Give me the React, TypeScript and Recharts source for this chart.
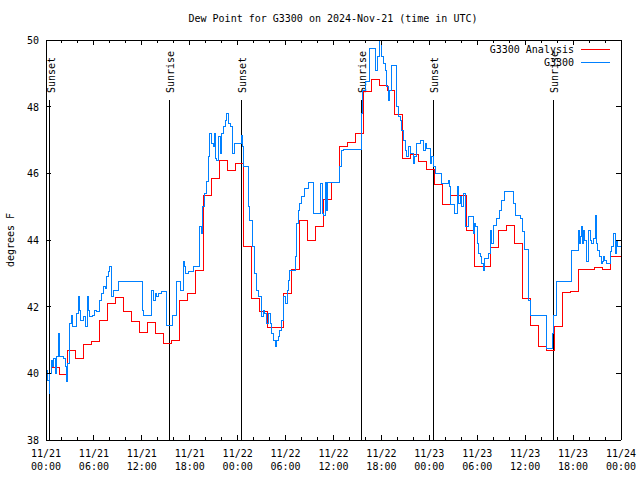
import { LineChart, Line, XAxis, YAxis, ReferenceLine } from 'recharts'

const FONT = '"DejaVu Sans Mono", "Liberation Mono", monospace'
const RED = '#ff0000'
const BLUE = '#0080ff'

// G3300 Analysis: hourly values, each one starts at ~:42 past the hour
const analysisFirst = 40.0
const analysisOffset = 0.7
const analysisHourly = [
  40.18, 39.98, 40.68, 40.46, 40.86, 40.96, 41.6, 42.1, 42.28, 41.86, 41.56, 41.23,
  41.53, 41.2, 40.9, 41.0, 42.2, 42.4, 43.08, 45.35, 45.85, 46.39, 46.09, 46.3,
  43.8, 42.25, 41.85, 41.37, 41.37, 42.4, 43.12, 44.58, 43.98, 44.42, 45.22, 45.72,
  46.8, 46.92, 47.2, 48.45, 48.82, 48.65, 48.5, 47.78, 46.45, 46.58, 46.35, 46.12,
  45.68, 45.08, 45.35, 45.35, 44.28, 43.22, 43.22, 43.78, 44.3, 44.44, 43.9, 42.26,
  41.45, 40.8, 40.68, 41.4, 42.43, 42.45, 43.12, 43.12, 43.17, 43.12, 43.5, 43.5,
]

// G3300 observations (hours since 11/21 00:00 UTC)
const obsHours = [
  0, 0.25, 0.42, 0.5, 0.65, 0.85, 1.0, 1.15, 1.3, 1.54, 1.65, 1.75, 2.17, 2.4, 2.59, 2.7,
  2.88, 3.0, 3.21, 3.35, 3.63, 3.85, 4.05, 4.2, 4.34, 4.7, 5.0, 5.18, 5.3, 5.43, 5.8, 6.1,
  6.34, 6.76, 7.0, 7.18, 7.4, 7.6, 7.8, 8.01, 8.15, 8.22, 8.43, 9.06, 12.1, 12.27, 13.23, 13.44,
  13.65, 13.86, 14.1, 14.48, 15.11, 15.86, 16.36, 16.78, 17.19, 17.35, 17.53, 17.82, 18.45, 19.2,
  19.45, 19.6, 19.83, 20.12, 20.33, 20.53, 20.74, 20.95, 21.1, 21.2, 21.37, 21.58, 21.79, 22.0,
  22.2, 22.45, 22.62, 22.83, 23.04, 23.37, 23.66, 24.3, 24.42, 24.58, 24.79, 25.33, 25.54, 25.84,
  26.17, 26.38, 26.59, 27.0, 27.2, 27.42, 27.6, 27.84, 28.05, 28.26, 28.45, 28.68, 28.9, 29.09,
  29.3, 29.51, 29.8, 30.01, 30.2, 30.35, 30.55, 31.18, 31.39, 31.6, 31.8, 32.01, 32.43, 32.85,
  33.47, 34.43, 34.6, 34.73, 34.94, 35.1, 35.3, 36.81, 37.0, 37.23, 39.52, 39.65, 39.95, 40.57,
  41.2, 41.49, 41.74, 42.03, 42.25, 42.45, 42.66, 42.85, 43.07, 43.28, 43.91, 44.1, 44.33, 44.55,
  44.75, 45.0, 45.16, 45.37, 45.7, 46.0, 46.2, 46.42, 46.84, 47.25, 47.5, 47.67, 48.09, 48.3,
  48.51, 48.71, 49.55, 50.38, 50.51, 50.68, 51.21, 51.51, 51.7, 51.84, 52.0, 52.26, 52.55, 52.88,
  53.51, 53.65, 53.8, 54.01, 54.2, 54.35, 54.55, 54.76, 54.97, 55.39, 55.6, 55.81, 56.02, 56.43,
  56.73, 57.06, 57.35, 58.52, 58.85, 59.44, 59.69, 59.94, 60.41, 60.73, 62.61, 63.4, 63.53, 63.94,
  65.82, 66.66, 66.75, 66.87, 67.0, 67.16, 67.3, 67.49, 67.7, 67.91, 68.12, 68.3, 68.54, 68.75,
  68.9, 69.08, 69.37, 69.5, 69.67, 69.8, 69.92, 70.2, 70.63, 70.83, 71.12, 71.33, 71.45, 71.58, 72,
]
const obsValues = [
  40.1, 39.8, 39.4, 40.0, 40.4, 40.2, 40.45, 40.0, 40.5, 41.2, 41.1, 40.5, 40.45, 40.2, 39.75, 40.3,
  41.1, 41.5, 41.75, 41.4, 41.4, 41.8, 42.3, 41.9, 41.6, 41.7, 41.4, 42.3, 41.9, 41.7, 41.75, 41.9,
  41.85, 42.2, 42.4, 42.6, 42.55, 42.9, 43.05, 43.2, 42.9, 42.3, 42.5, 42.75, 41.9, 41.75, 42.5, 42.2,
  42.4, 42.3, 42.4, 42.47, 41.45, 41.75, 42.75, 42.5, 43.35, 43.2, 43.0, 43.05, 43.2, 44.4,
  44.2, 45.0, 45.4, 45.75, 46.5, 47.2, 46.9, 46.8, 47.2, 46.45, 46.4, 47.1, 46.6, 47.2,
  47.4, 47.6, 47.8, 47.5, 47.4, 46.6, 46.9, 46.9, 47.15, 46.8, 46.2, 45.0, 44.6, 43.8,
  43.0, 42.5, 42.3, 41.7, 41.9, 41.8, 41.5, 41.8, 41.5, 41.2, 41.0, 40.8, 41.0, 41.1,
  41.3, 41.6, 42.3, 42.1, 42.5, 42.8, 43.1, 43.5, 44.5, 44.9, 45.1, 45.3, 45.55, 45.72,
  44.8, 45.7, 44.8, 44.75, 45.72, 44.9, 45.72, 46.2, 46.7, 46.73, 47.8, 48.5, 48.75, 49.75,
  49.1, 49.5, 50.0, 49.5, 49.3, 49.1, 48.6, 48.2, 48.5, 49.25, 48.0, 47.7, 47.6, 47.3,
  47.0, 46.7, 46.5, 46.8, 46.6, 46.3, 46.5, 46.9, 47.0, 46.7, 46.9, 46.75, 46.3, 46.5,
  46.2, 46.0, 45.7, 45.8, 45.6, 45.08, 44.8, 45.6, 45.1, 45.3, 45.0, 45.4, 44.4, 44.7,
  44.2, 44.5, 44.4, 43.9, 43.6, 43.5, 43.3, 43.1, 43.45, 43.6, 44.3, 43.9, 44.45, 44.65,
  44.9, 45.2, 45.45, 45.1, 44.75, 44.65, 44.25, 43.73, 42.2, 41.75, 40.75, 41.2, 41.75, 42.75,
  43.7, 44.3, 43.9, 44.1, 44.4, 43.9, 44.3, 44.0, 43.35, 44.3, 44.0, 43.9, 44.05, 44.75,
  43.9, 43.7, 43.5, 43.3, 43.35, 43.5, 43.4, 43.3, 43.65, 43.8, 44.2, 43.6, 44.0, 43.8, 43.9,
]

const sunHours = [0.5, 15.45, 24.45, 39.5, 48.5, 63.5]
const sunNames = ['Sunset', 'Sunrise', 'Sunset', 'Sunrise', 'Sunset', 'Sunrise']
const sunLineTop = 48.2

const xTickHours = [0, 6, 12, 18, 24, 30, 36, 42, 48, 54, 60, 66, 72]
const xTickDates = ['11/21', '11/21', '11/21', '11/21', '11/22', '11/22', '11/22', '11/22', '11/23', '11/23', '11/23', '11/23', '11/24']
const xTickTimes = ['00:00', '06:00', '12:00', '18:00', '00:00', '06:00', '12:00', '18:00', '00:00', '06:00', '12:00', '18:00', '00:00']
const xMinorTicks = Array.from({ length: 37 }, (_, i) => i * 2)
const yTicks = [38, 40, 42, 44, 46, 48, 50]

const analysisData = [
  { t: 0, v: analysisFirst },
  ...analysisHourly.map((v, k) => ({ t: k + analysisOffset, v })),
  { t: 72, v: analysisHourly[analysisHourly.length - 1] },
]
const obsData = obsHours.map((t, i) => ({ t, v: obsValues[i] }))

const txt = { fontFamily: FONT, fontSize: 10, fill: '#000' }

function BottomTick({ x, y, payload }: any) {
  const i = xTickHours.indexOf(payload.value)
  const len = i >= 0 ? 5 : 3
  return (
    <g>
      <line x1={x} x2={x} y1={y} y2={y - len} stroke="#000" />
      {i >= 0 && <text x={x} y={y + 17} textAnchor="middle" {...txt}>{xTickDates[i]}</text>}
      {i >= 0 && <text x={x} y={y + 30} textAnchor="middle" {...txt}>{xTickTimes[i]}</text>}
    </g>
  )
}

function TopTick({ x, y, payload }: any) {
  const len = xTickHours.includes(payload.value) ? 5 : 3
  return <line x1={x} x2={x} y1={y} y2={y + len} stroke="#000" />
}

function LeftTick({ x, y, payload }: any) {
  return (
    <g>
      <line x1={x} x2={x + 5} y1={y} y2={y} stroke="#000" />
      <text x={x - 7} y={y + 4} textAnchor="end" {...txt}>{payload.value}</text>
    </g>
  )
}

function RightTick({ x, y }: any) {
  return <line x1={x} x2={x - 5} y1={y} y2={y} stroke="#000" />
}

const sunLabel = (name: string) => (props: any) => {
  const vb = props.viewBox || {}
  const x = vb.x + 5
  const y = vb.y - 7
  return (
    <text x={x} y={y} transform={`rotate(-90 ${x} ${y})`} textAnchor="start" {...txt}>{name}</text>
  )
}

export default function App() {
  return (
    <div style={{ position: 'absolute', left: 0, top: 0, width: 640, height: 480, background: '#fff' }}>
      <LineChart width={640} height={480} margin={{ top: 39, right: 18, bottom: 39, left: 45 }}
        style={{ shapeRendering: 'crispEdges' }}>
        <XAxis xAxisId="b" dataKey="t" type="number" domain={[0, 72]} ticks={xMinorTicks} interval={0}
          height={1} tickSize={0} tickMargin={0} tickLine={false} tick={<BottomTick />}
          axisLine={{ stroke: '#000' }} allowDataOverflow />
        <XAxis xAxisId="t" orientation="top" dataKey="t" type="number" domain={[0, 72]} ticks={xMinorTicks} interval={0}
          height={1} tickSize={0} tickMargin={0} tickLine={false} tick={<TopTick />}
          axisLine={{ stroke: '#000' }} allowDataOverflow />
        <YAxis yAxisId="l" type="number" domain={[38, 50]} ticks={yTicks} interval={0}
          width={1} tickSize={0} tickMargin={0} tickLine={false} tick={<LeftTick />}
          axisLine={{ stroke: '#000' }} allowDataOverflow />
        <YAxis yAxisId="r" orientation="right" type="number" domain={[38, 50]} ticks={yTicks} interval={0}
          width={1} tickSize={0} tickMargin={0} tickLine={false} tick={<RightTick />}
          axisLine={{ stroke: '#000' }} allowDataOverflow />
        {sunHours.map((h, i) => (
          <ReferenceLine key={i} xAxisId="b" yAxisId="l" stroke="#000" strokeWidth={1}
            segment={[{ x: h, y: 38 }, { x: h, y: sunLineTop }]}
            label={{ content: sunLabel(sunNames[i]) }} />
        ))}
        <Line xAxisId="b" yAxisId="l" data={analysisData} dataKey="v" type="stepAfter"
          stroke={RED} strokeWidth={1} dot={false} isAnimationActive={false} />
        <Line xAxisId="b" yAxisId="l" data={obsData} dataKey="v" type="stepAfter"
          stroke={BLUE} strokeWidth={1} dot={false} isAnimationActive={false} />
      </LineChart>
      <svg width={640} height={480} style={{ position: 'absolute', left: 0, top: 0, pointerEvents: 'none', shapeRendering: 'crispEdges' }}>
        <text x={333} y={22} textAnchor="middle" {...txt}>Dew Point for G3300 on 2024-Nov-21 (time in UTC)</text>
        <text x={14} y={240} textAnchor="middle" transform="rotate(-90 14 240)" {...txt}>degrees F</text>
        <text x={574} y={53} textAnchor="end" {...txt}>G3300 Analysis</text>
        <line x1={581} x2={610} y1={49} y2={49} stroke={RED} />
        <text x={574} y={66} textAnchor="end" {...txt}>G3300</text>
        <line x1={581} x2={610} y1={62} y2={62} stroke={BLUE} />
      </svg>
    </div>
  )
}
